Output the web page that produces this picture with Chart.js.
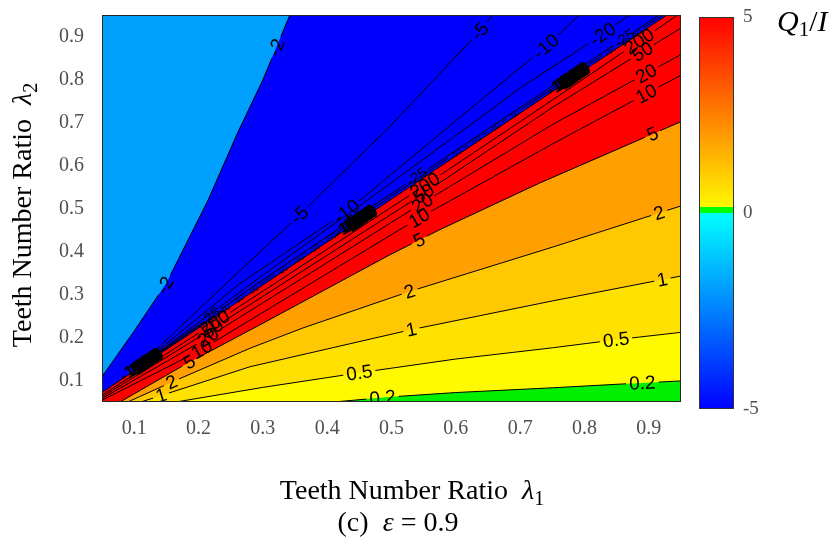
<!DOCTYPE html>
<html><head><meta charset="utf-8">
<script src="https://cdn.jsdelivr.net/npm/chart.js@4.4.1/dist/chart.umd.min.js"></script>
<style>html,body{margin:0;padding:0;background:#fff;}canvas{display:block;}</style>
</head><body>
<canvas id="c" width="837" height="546"></canvas>
<script>
// ---- axis ranges / ticks ----
const X_MIN = 0.05, X_MAX = 0.95, Y_MIN = 0.05, Y_MAX = 0.95;
const lambda1Ticks = [0.1, 0.2, 0.3, 0.4, 0.5, 0.6, 0.7, 0.8, 0.9];
const lambda2Ticks = [0.1, 0.2, 0.3, 0.4, 0.5, 0.6, 0.7, 0.8, 0.9];
const colorbarTicks = [-5, 0, 5];

// ---- contour lines [λ1, λ2] ----
const levelM2  = [[0.05,0.109],[0.10,0.215],[0.150,0.326],[0.215,0.52],[0.2605,0.675],[0.300,0.799],[0.342,0.95]];
const levelM5  = [[0.112,0.140],[0.2,0.265],[0.357,0.485],[0.497,0.69],[0.637,0.912],[0.657,0.95]];
const levelM10 = [[0.112,0.139],[0.264,0.325],[0.43,0.493],[0.6,0.704],[0.74,0.877],[0.792,0.95]];
const levelM20 = [[0.112,0.138],[0.3,0.345],[0.5,0.56],[0.7,0.78],[0.828,0.905],[0.87,0.95]];
const levelM25 = [[0.112,0.137],[0.3,0.334],[0.5,0.535],[0.7,0.735],[0.916,0.95]];
const levelM50 = [[0.112,0.136],[0.3,0.328],[0.5,0.529],[0.7,0.729],[0.922,0.95]];
const levelJump = [[0.05,0.072],[0.3,0.322],[0.6,0.622],[0.928,0.95]];
const level200 = [[0.05,0.066],[0.2,0.21],[0.543,0.545],[0.75,0.752],[0.945,0.95]];
const level50  = [[0.05,0.062],[0.2,0.2],[0.543,0.528],[0.75,0.735],[0.95,0.92]];
const level20  = [[0.05,0.058],[0.2,0.187],[0.543,0.508],[0.75,0.695],[0.95,0.858]];
const level10  = [[0.05,0.054],[0.2,0.168],[0.543,0.478],[0.75,0.65],[0.95,0.81]];
const level5   = [[0.078,0.05],[0.18,0.138],[0.295,0.229],[0.497,0.392],[0.574,0.45],[0.73,0.559],[0.95,0.702]];
const level2   = [[0.09,0.05],[0.158,0.096],[0.28,0.175],[0.362,0.222],[0.528,0.307],[0.75,0.41],[0.95,0.506]];
const level1   = [[0.11,0.05],[0.142,0.065],[0.28,0.132],[0.53,0.218],[0.75,0.285],[0.95,0.343]];
const level05  = [[0.165,0.05],[0.3,0.084],[0.45,0.118],[0.6,0.15],[0.75,0.176],[0.85,0.195],[0.95,0.212]];
const level02  = [[0.41,0.05],[0.5,0.062],[0.6,0.072],[0.75,0.083],[0.86,0.092],[0.95,0.099]];
const plotTopEdge = [[X_MIN,Y_MAX],[X_MAX,Y_MAX]];

// ---- label positions (λ1 along each contour) ----
const labelsM2 = [0.148, 0.321];
const labelsM5 = [0.357, 0.637];
const labelsM10 = [0.43, 0.74];
const labelsM20 = [0.828];
const labelsM25 = [0.218, 0.539, 0.862];
const labelsM50 = [0.24, 0.262, 0.284, 0.33, 0.355, 0.38, 0.405, 0.60, 0.63, 0.66, 0.69, 0.84, 0.88];
const labels200 = [0.225, 0.552, 0.885];
const labels50 = [0.222, 0.55, 0.89];
const labels20 = [0.215, 0.548, 0.896];
const labels10 = [0.205, 0.543, 0.896];
const labels5 = [0.186, 0.543, 0.906];
const labels2 = [0.158, 0.528, 0.916];
const labels1 = [0.142, 0.531, 0.921];
const labels05 = [0.45, 0.849];
const labels02 = [0.486, 0.89];
const clusterAt = [0.117, 0.45, 0.781];
const clusterTexts = ['-1000', '-500', '-200', '1000', '500', '200'];

// ---- contour specs ----
const contours = [
  {pts: levelM2, text: '-2', at: labelsM2},
  {pts: levelM5, text: '-5', at: labelsM5},
  {pts: levelM10, text: '-10', at: labelsM10},
  {pts: levelM20, text: '-20', at: labelsM20},
  {pts: levelM25, text: '-25', at: labelsM25, size: 15},
  {pts: levelM50, text: '-50', at: labelsM50, size: 8},
  {pts: levelJump, text: '', at: []},
  {pts: level200, text: '200', at: labels200},
  {pts: level50, text: '50', at: labels50},
  {pts: level20, text: '20', at: labels20},
  {pts: level10, text: '10', at: labels10},
  {pts: level5, text: '5', at: labels5},
  {pts: level2, text: '2', at: labels2},
  {pts: level1, text: '1', at: labels1},
  {pts: level05, text: '0.5', at: labels05},
  {pts: level02, text: '0.2', at: labels02}
];
const fillLayers = [
  {pts: plotTopEdge, color: '#00A0FF'},
  {pts: levelM2, color: '#0000FF'},
  {pts: levelJump, color: '#FF0000'},
  {pts: level5, color: '#FFA000'},
  {pts: level2, color: '#FFC800'},
  {pts: level1, color: '#FFE100'},
  {pts: level05, color: '#FFFA00'},
  {pts: level02, color: '#00F000'}
];

function region(pts) {
  const out = pts.map(p => ({x: p[0], y: p[1]}));
  const f = pts[0], l = pts[pts.length - 1];
  if (f[0] > X_MIN + 1e-9) out.unshift({x: X_MIN, y: f[1]});
  if (l[0] < X_MAX - 1e-9) out.push({x: X_MAX, y: l[1]});
  return out;
}

const datasets = [];
fillLayers.forEach((L, i) => {
  datasets.push({data: region(L.pts), showLine: true, fill: 'start', backgroundColor: L.color,
    borderWidth: 0, borderColor: 'rgba(0,0,0,0)', pointRadius: 0, order: 100 - i});
});
contours.forEach((C, i) => {
  datasets.push({data: C.pts.map(p => ({x: p[0], y: p[1]})), showLine: true, fill: false,
    borderColor: '#000', borderWidth: 1, pointRadius: 0, order: 1, contourIdx: i});
});

function interpY(pts, x) {
  for (let i = 0; i < pts.length - 1; i++) {
    const a = pts[i], b = pts[i + 1];
    if (x >= a[0] && x <= b[0]) { const t = (x - a[0]) / (b[0] - a[0]); return a[1] + t * (b[1] - a[1]); }
  }
  return x < pts[0][0] ? pts[0][1] : pts[pts.length - 1][1];
}
function geom(chart, pts, x) {
  const xs = chart.scales.x, ys = chart.scales.y;
  const px = xs.getPixelForValue(x), py = ys.getPixelForValue(interpY(pts, x));
  const d = 0.012;
  const x0 = Math.max(pts[0][0], x - d), x1 = Math.min(pts[pts.length - 1][0], x + d);
  const ax = xs.getPixelForValue(x0), ay = ys.getPixelForValue(interpY(pts, x0));
  const bx = xs.getPixelForValue(x1), by = ys.getPixelForValue(interpY(pts, x1));
  let ang = Math.atan2(by - ay, bx - ax);
  if (ang > Math.PI / 2) ang -= Math.PI;
  if (ang < -Math.PI / 2) ang += Math.PI;
  return {px, py, ang};
}
const LABEL_FONT = 'Liberation Sans';
const LABEL_SIZE = 19;

const contourLabels = {
  id: 'contourLabels',
  beforeDatasetDraw(chart, args) {
    const ds = chart.data.datasets[args.index];
    if (ds.contourIdx === undefined) return;
    const C = contours[ds.contourIdx];
    const ctx = chart.ctx;
    ctx.save();
    ctx.beginPath();
    ctx.rect(0, 0, chart.width, chart.height);
    const size = C.size || LABEL_SIZE;
    ctx.font = size + 'px ' + LABEL_FONT;
    const hw = ctx.measureText(C.text).width / 2 + 3, hh = size * 0.45;
    C.at.forEach(x => {
      const g = geom(chart, C.pts, x);
      const c = Math.cos(g.ang), s = Math.sin(g.ang);
      const corners = [[-hw, -hh], [hw, -hh], [hw, hh], [-hw, hh]].map(([dx, dy]) => [g.px + c * dx - s * dy, g.py + s * dx + c * dy]);
      ctx.moveTo(corners[0][0], corners[0][1]);
      for (let k = 1; k < 4; k++) ctx.lineTo(corners[k][0], corners[k][1]);
      ctx.closePath();
    });
    ctx.clip('evenodd');
  },
  afterDatasetDraw(chart, args) {
    const ds = chart.data.datasets[args.index];
    if (ds.contourIdx === undefined) return;
    chart.ctx.restore();
  },
  afterDatasetsDraw(chart) {
    const ctx = chart.ctx, a = chart.chartArea;
    ctx.save();
    ctx.beginPath(); ctx.rect(a.left, a.top, a.right - a.left, a.bottom - a.top); ctx.clip();
    ctx.fillStyle = '#000'; ctx.textAlign = 'center'; ctx.textBaseline = 'middle';
    contours.forEach(C => {
      const size = C.size || LABEL_SIZE;
      ctx.font = size + 'px ' + LABEL_FONT;
      C.at.forEach(x => {
        const g = geom(chart, C.pts, x);
        ctx.save(); ctx.translate(g.px, g.py); ctx.rotate(g.ang); ctx.fillText(C.text, 0, 1); ctx.restore();
      });
    });
    ctx.font = 'bold 17px ' + LABEL_FONT;
    clusterAt.forEach(x => {
      const g = geom(chart, levelJump, x);
      clusterTexts.forEach((t, k) => {
        const off = (k - 2.5) * 2.4;
        ctx.save(); ctx.translate(g.px + Math.cos(g.ang) * off, g.py + Math.sin(g.ang) * off);
        ctx.rotate(g.ang); ctx.fillText(t, 0, (k % 3) - 1); ctx.restore();
      });
    });
    ctx.restore();
  },
  afterDraw(chart) {
    const ctx = chart.ctx, a = chart.chartArea;
    ctx.save();
    // plot box
    ctx.strokeStyle = '#262626'; ctx.lineWidth = 1;
    ctx.strokeRect(a.left + 0.5, a.top + 0.5, a.right - a.left - 1, a.bottom - a.top - 1);
    // colorbar
    const cb = {l: 699, r: 734, t: 17, b: 409};
    const cmin = colorbarTicks[0], cmax = colorbarTicks[colorbarTicks.length - 1];
    const vy = v => cb.t + (cmax - v) / (cmax - cmin) * (cb.b - cb.t);
    const y0 = vy(0);
    let g = ctx.createLinearGradient(0, cb.t, 0, y0);
    g.addColorStop(0, 'rgb(255,0,0)'); g.addColorStop(0.5, 'rgb(255,128,0)'); g.addColorStop(1, 'rgb(255,255,0)');
    ctx.fillStyle = g; ctx.fillRect(cb.l, cb.t, cb.r - cb.l, y0 - cb.t);
    g = ctx.createLinearGradient(0, y0, 0, cb.b);
    g.addColorStop(0, 'rgb(0,255,255)'); g.addColorStop(0.5, 'rgb(0,128,255)'); g.addColorStop(1, 'rgb(0,0,255)');
    ctx.fillStyle = g; ctx.fillRect(cb.l, y0, cb.r - cb.l, cb.b - y0);
    ctx.fillStyle = 'rgb(0,255,0)'; ctx.fillRect(cb.l, y0 - 6, cb.r - cb.l, 6);
    ctx.strokeStyle = '#333'; ctx.strokeRect(cb.l + 0.5, cb.t + 0.5, cb.r - cb.l - 1, cb.b - cb.t - 1);
    ctx.fillStyle = '#505050'; ctx.font = '19px Liberation Serif'; ctx.textAlign = 'left'; ctx.textBaseline = 'middle';
    colorbarTicks.forEach(v => ctx.fillText(String(v), 743, vy(v)));
    // colorbar title Q1/I
    ctx.fillStyle = '#000'; ctx.textBaseline = 'alphabetic';
    drawRich(ctx, [{t: 'Q', f: 'italic 30px Liberation Serif'}, {t: '1', f: '21px Liberation Serif', dy: 5}, {t: '/', f: '30px Liberation Serif'}, {t: 'I', f: 'italic 30px Liberation Serif'}], 777, 31);
    // x title
    const xt = [{t: 'Teeth Number Ratio  ', f: '28px Liberation Serif'}, {t: 'λ', f: 'italic 28px Liberation Serif'}, {t: '1', f: '20px Liberation Serif', dy: 6}];
    drawRich(ctx, xt, 412 - richWidth(ctx, xt) / 2, 499);
    // caption
    const cp = [{t: '(c)  ', f: '28px Liberation Serif'}, {t: 'ε', f: 'italic 28px Liberation Serif'}, {t: ' = 0.9', f: '28px Liberation Serif'}];
    drawRich(ctx, cp, 398 - richWidth(ctx, cp) / 2, 531);
    // y title
    const yt = [{t: 'Teeth Number Ratio  ', f: '28px Liberation Serif'}, {t: 'λ', f: 'italic 28px Liberation Serif'}, {t: '2', f: '20px Liberation Serif', dy: 6}];
    ctx.translate(31, 215); ctx.rotate(-Math.PI / 2);
    drawRich(ctx, yt, -richWidth(ctx, yt) / 2, 0);
    ctx.restore();
  }
};
function richWidth(ctx, parts) { let w = 0; parts.forEach(p => { ctx.font = p.f; w += ctx.measureText(p.t).width; }); return w; }
function drawRich(ctx, parts, x, y) { let cx = x; parts.forEach(p => { ctx.font = p.f; ctx.fillText(p.t, cx, y + (p.dy || 0)); cx += ctx.measureText(p.t).width; }); }

const tickFont = {family: 'Liberation Serif', size: 20};
new Chart(document.getElementById('c'), {
  type: 'scatter',
  data: {datasets},
  options: {
    responsive: false, animation: false, devicePixelRatio: 1,
    layout: {padding: {left: 0, right: 156, top: 15, bottom: 0}},
    plugins: {legend: {display: false}, tooltip: {enabled: false}},
    scales: {
      x: {type: 'linear', min: X_MIN, max: X_MAX, z: 1,
        afterBuildTicks: s => { s.ticks = lambda1Ticks.map(v => ({value: v})); },
        afterFit: s => { s.height = 144; s.paddingLeft = 0; s.paddingRight = 0; },
        grid: {color: 'rgba(0,0,0,0.15)', drawTicks: false, lineWidth: 1},
        border: {display: false},
        ticks: {padding: 15, font: tickFont, color: '#505050', maxRotation: 0, autoSkip: false, callback: v => v.toFixed(1)}},
      y: {type: 'linear', min: Y_MIN, max: Y_MAX, z: 1,
        afterBuildTicks: s => { s.ticks = lambda2Ticks.map(v => ({value: v})); },
        afterFit: s => { s.width = 102; s.paddingTop = 0; s.paddingBottom = 0; },
        grid: {color: 'rgba(0,0,0,0.15)', drawTicks: false, lineWidth: 1},
        border: {display: false},
        ticks: {padding: 18, font: tickFont, color: '#505050', autoSkip: false, callback: v => v.toFixed(1)}}
    }
  },
  plugins: [contourLabels]
});
</script>
</body></html>
